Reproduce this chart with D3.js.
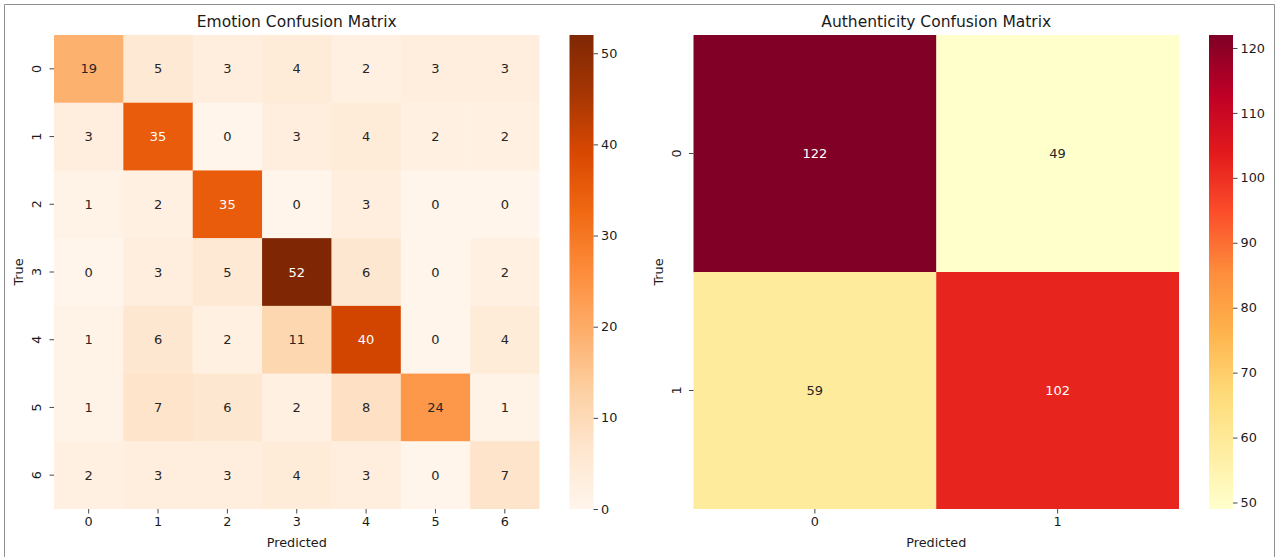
<!DOCTYPE html>
<html>
<head>
<meta charset="utf-8">
<script src="https://cdn.jsdelivr.net/npm/d3@7"></script>
<style>
  html, body { margin: 0; padding: 0; background: #fff; }
  svg text { font-family: "DejaVu Sans", sans-serif; }
</style>
</head>
<body>
<svg id="fig" width="1276" height="557"></svg>
<script>
// ---- data ----
const emotionLabels = ["0", "1", "2", "3", "4", "5", "6"];
const emotionMatrix = [
  [19, 5, 3, 4, 2, 3, 3],
  [3, 35, 0, 3, 4, 2, 2],
  [1, 2, 35, 0, 3, 0, 0],
  [0, 3, 5, 52, 6, 0, 2],
  [1, 6, 2, 11, 40, 0, 4],
  [1, 7, 6, 2, 8, 24, 1],
  [2, 3, 3, 4, 3, 0, 7]
];
const emotionTicks = [0, 10, 20, 30, 40, 50];

const authLabels = ["0", "1"];
const authMatrix = [
  [122, 49],
  [59, 102]
];
const authTicks = [50, 60, 70, 80, 90, 100, 110, 120];

// ColorBrewer ramps, interpolated linearly between stops
const orangesStops = ["#fff5eb","#fee6ce","#fdd0a2","#fdae6b","#fd8d3c","#f16913","#d94801","#a63603","#7f2704"];
const ylOrRdStops = ["#ffffcc","#ffeda0","#fed976","#feb24c","#fd8d3c","#fc4e2a","#e31a1c","#bd0026","#800026"];

const svg = d3.select("#fig");
const textColor = "#1a1a1a";

// figure frame
svg.append("path")
  .attr("d", "M4.5,560 V4.5 H1274.5 V560")
  .attr("fill", "none")
  .attr("stroke", "#8e8e8e")
  .attr("stroke-width", 1);

function rampScale(stops, vmin, vmax) {
  const dom = stops.map((_, i) => vmin + (vmax - vmin) * i / (stops.length - 1));
  return d3.scaleLinear().domain(dom).range(stops).interpolate(d3.interpolateRgb).clamp(true);
}

function luminance(c) {
  const rgb = d3.rgb(c);
  const lin = v => { v /= 255; return v <= 0.03928 ? v / 12.92 : Math.pow((v + 0.055) / 1.055, 2.4); };
  return 0.2126 * lin(rgb.r) + 0.7152 * lin(rgb.g) + 0.0722 * lin(rgb.b);
}

function drawHeatmap(opts) {
  const { left, top, width, height, labels, matrix, stops, ticks, title, id } = opts;
  const flat = matrix.flat();
  const vmin = d3.min(flat), vmax = d3.max(flat);
  const color = rampScale(stops, vmin, vmax);

  const x = d3.scaleBand().domain(labels).range([left, left + width]);
  const y = d3.scaleBand().domain(labels).range([top, top + height]);

  const g = svg.append("g");

  // cells
  matrix.forEach((row, i) => {
    row.forEach((v, j) => {
      g.append("rect")
        .attr("x", x(labels[j]))
        .attr("y", y(labels[i]))
        .attr("width", x.bandwidth() + (j < labels.length - 1 ? 0.5 : 0))
        .attr("height", y.bandwidth() + (i < labels.length - 1 ? 0.5 : 0))
        .attr("fill", color(v));
    });
  });

  // annotations
  matrix.forEach((row, i) => {
    row.forEach((v, j) => {
      const c = color(v);
      g.append("text")
        .attr("x", x(labels[j]) + x.bandwidth() / 2)
        .attr("y", y(labels[i]) + y.bandwidth() / 2)
        .attr("text-anchor", "middle")
        .attr("dominant-baseline", "central")
        .attr("font-size", "13px")
        .attr("fill", luminance(c) > 0.408 ? "#262626" : "#ffffff")
        .text(v);
    });
  });

  // x axis
  const xAxis = g.append("g")
    .attr("transform", `translate(0,${top + height})`)
    .call(d3.axisBottom(x).tickSize(4.5).tickPadding(3.5));
  xAxis.select(".domain").remove();
  xAxis.selectAll("line").attr("stroke", "#333").attr("stroke-width", 0.9);
  xAxis.selectAll("text").attr("font-size", "12.8px").attr("fill", textColor)
    .attr("font-family", "DejaVu Sans, sans-serif");

  // y axis (labels rotated vertically)
  const yAxis = g.append("g")
    .attr("transform", `translate(${left},0)`)
    .call(d3.axisLeft(y).tickSize(4.5).tickPadding(3.5));
  yAxis.select(".domain").remove();
  yAxis.selectAll("line").attr("stroke", "#333").attr("stroke-width", 0.9);
  yAxis.selectAll("text")
    .attr("font-size", "12.8px").attr("fill", textColor)
    .attr("font-family", "DejaVu Sans, sans-serif")
    .attr("text-anchor", "middle")
    .attr("dy", null)
    .attr("dominant-baseline", "auto")
    .attr("x", null)
    .attr("transform", "translate(-13,0) rotate(-90)")
    .attr("y", 0);

  // axis titles
  g.append("text")
    .attr("x", left + width / 2)
    .attr("y", top + height + 37.5)
    .attr("text-anchor", "middle")
    .attr("font-size", "12.8px")
    .attr("fill", textColor)
    .text("Predicted");
  g.append("text")
    .attr("transform", `translate(${left - 31},${top + height / 2}) rotate(-90)`)
    .attr("text-anchor", "middle")
    .attr("font-size", "12.8px")
    .attr("fill", textColor)
    .text("True");

  g.append("text")
    .attr("x", left + width / 2)
    .attr("y", top - 8)
    .attr("text-anchor", "middle")
    .attr("font-size", "15.5px")
    .attr("fill", textColor)
    .text(title);

  // colorbar
  const cbLeft = left + width + 30, cbWidth = 24;
  const cbScale = d3.scaleLinear().domain([vmin, vmax]).range([top + height, top]);
  const gradId = "grad-" + id;
  const grad = svg.append("defs").append("linearGradient")
    .attr("id", gradId).attr("x1", 0).attr("y1", 1).attr("x2", 0).attr("y2", 0);
  color.domain().forEach((d, i) => {
    grad.append("stop")
      .attr("offset", (d - vmin) / (vmax - vmin))
      .attr("stop-color", color.range()[i]);
  });
  g.append("rect")
    .attr("x", cbLeft).attr("y", top)
    .attr("width", cbWidth).attr("height", height)
    .attr("fill", `url(#${gradId})`);
  const cbAxis = g.append("g")
    .attr("transform", `translate(${cbLeft + cbWidth},0)`)
    .call(d3.axisRight(cbScale).tickValues(ticks).tickSize(4.5).tickPadding(3));
  cbAxis.select(".domain").remove();
  cbAxis.selectAll("line").attr("stroke", "#333").attr("stroke-width", 0.9);
  cbAxis.selectAll("text").attr("font-size", "12.8px").attr("fill", textColor)
    .attr("font-family", "DejaVu Sans, sans-serif");
}

drawHeatmap({
  id: "emotion", left: 54, top: 35, width: 485.5, height: 474,
  labels: emotionLabels, matrix: emotionMatrix, stops: orangesStops,
  ticks: emotionTicks, title: "Emotion Confusion Matrix"
});
drawHeatmap({
  id: "auth", left: 693.5, top: 35, width: 485.5, height: 474,
  labels: authLabels, matrix: authMatrix, stops: ylOrRdStops,
  ticks: authTicks, title: "Authenticity Confusion Matrix"
});
</script>
</body>
</html>
